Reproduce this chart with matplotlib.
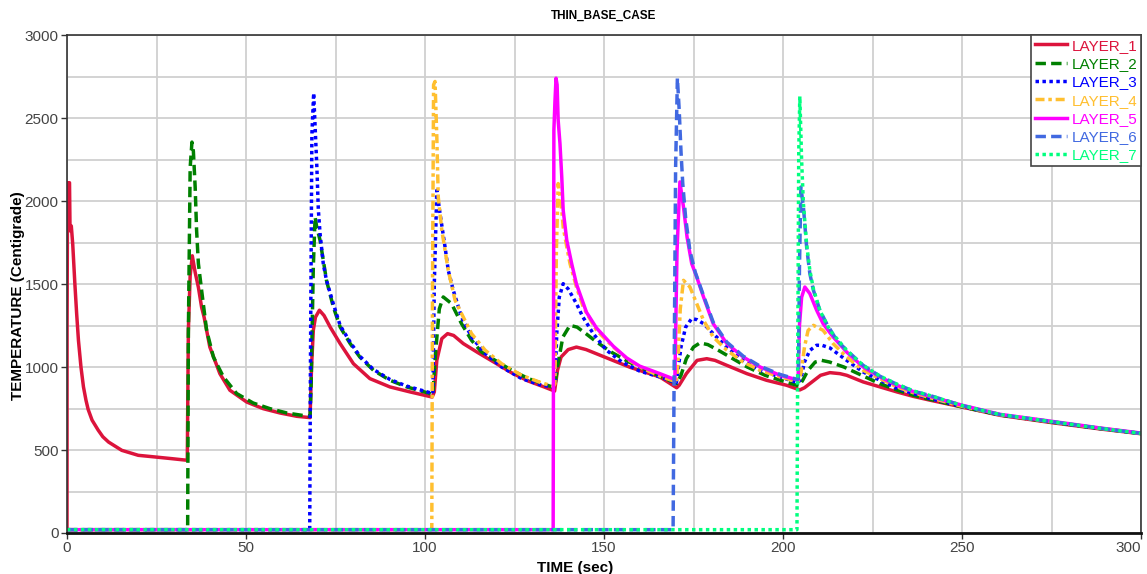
import matplotlib
matplotlib.use("Agg")
import matplotlib.pyplot as plt
from matplotlib.ticker import MultipleLocator, FixedLocator

plt.rcParams['font.family'] = ['Liberation Sans', 'DejaVu Sans']

# ---- temperature histories of each deposited layer (time in s, temperature in C) ----
layer1_t = [0, 0.02, 0.15, 0.7, 0.85, 1.2, 1.6, 2.2, 2.7, 3.2, 3.9, 4.6, 5.3, 5.9, 7.0, 8.7, 10.0, 11.6, 15.3, 19.9,
            24.6, 29.2, 33.6,
            33.9, 34.4, 35.0, 35.8, 36.7, 37.6, 38.3, 39.9, 42.7, 45.5, 50.2, 54.8, 59.5, 64.2, 67.9,
            68.3, 68.8, 69.4, 70.5, 71.8, 73.5, 76.3, 80.0, 84.6, 90.2, 95.8, 102.0,
            102.6, 103.3, 104.7, 106.3, 108.0, 110.7, 114.9, 119.6, 124.2, 128.9, 133.5, 136.2,
            137.0, 138.0, 140.0, 142.3, 145.0, 148.9, 157.3, 165.6, 170.3,
            171.0, 173.0, 176.0, 178.7, 181.0, 184.3, 189.9, 195.4, 201.0, 204.7,
            206.0, 208.4, 210.5, 213.1, 215.9, 217.8, 222.4, 227.1, 231.8, 236.4, 241.1, 250, 260.6, 275, 288.5, 300]
layer1_temp = [20, 1250, 2110, 2110, 1820, 1850, 1740, 1500, 1320, 1160, 1000, 880, 800, 745, 680, 620, 580, 548,
               498, 468, 458, 448, 438,
               1220, 1550, 1670, 1570, 1480, 1360, 1300, 1120, 960, 860, 789, 749, 723, 703, 695,
               1000, 1221, 1300, 1342, 1310, 1241, 1141, 1020, 930, 880, 850, 819,
               850, 1040, 1171, 1201, 1190, 1141, 1085, 1025, 965, 915, 878, 855,
               980, 1060, 1105, 1120, 1105, 1071, 998, 940, 875,
               890, 960, 1040, 1050, 1040, 1010, 960, 920, 890, 862,
               875, 915, 950, 966, 960, 950, 910, 880, 850, 823, 800, 759, 709, 665, 627, 598]

layer2_t = [0, 33.7, 33.9, 34.4, 34.9, 35.3, 35.8, 36.2, 36.7, 37.6, 39.0, 40.9, 43.7, 47.4, 52.0, 56.7, 61.4, 66.8, 67.9,
            68.2, 68.8, 69.3, 69.7, 70.7, 72.5, 74.4, 76.3, 79.1, 81.8, 85.6, 90.2, 94.9, 101.4, 102.2,
            103.0, 104.0, 105.1, 107.4, 110.2, 113.0, 115.8, 119.6, 124.2, 128.9, 133.5, 136.2,
            137.0, 138.5, 140.5, 142.5, 145.0, 148.0, 152.0, 157.0, 163.0, 170.3,
            171.5, 173.0, 175.0, 176.8, 179.0, 182.0, 186.0, 190.0, 195.0, 200.0, 204.5,
            205.5, 207.0, 209.0, 210.8, 213.0, 217.0, 222.0, 227.0, 232.0, 236.4, 241.1, 250, 260.6, 275, 288.5, 300]
layer2_temp = [20, 20, 1200, 2200, 2355, 2300, 2084, 1823, 1623, 1462, 1221, 1060, 940, 840, 783, 749, 723, 705, 702,
               900, 1600, 1904, 1850, 1762, 1520, 1361, 1241, 1141, 1060, 980, 920, 880, 840, 835,
               1100, 1350, 1422, 1382, 1261, 1161, 1090, 1040, 980, 930, 895, 875,
               1000, 1180, 1251, 1240, 1200, 1150, 1090, 1030, 970, 900,
               950, 1050, 1120, 1145, 1135, 1100, 1050, 1000, 950, 915, 885,
               920, 980, 1030, 1040, 1030, 1000, 950, 900, 860, 830, 805, 760, 711, 668, 629, 599]

layer3_t = [0, 67.8, 68.0, 68.4, 68.9, 69.3, 69.8, 70.2, 70.7, 71.6, 72.5, 74.4, 76.3, 79.1, 81.8, 85.6, 90.2, 94.9,
            101.4, 102.2, 102.6, 103.3, 104.2, 105.6, 106.5, 107.9, 110.2, 113.0, 116.8, 121.4, 127.0, 132.6, 135.9,
            136.3, 136.8, 137.5, 138.6, 140.0, 142.3, 144.1, 147.0, 150.7, 155.0, 160.0, 165.6, 170.2,
            170.5, 171.5, 172.8, 174.5, 176.0, 177.8, 180.5, 184.3, 188.9, 193.6, 199.2, 204.2,
            205.0, 206.0, 207.5, 209.4, 211.0, 213.1, 217.8, 222.4, 227.1, 231.8, 236.4, 241.1, 250, 260.6, 275, 288.5, 300]
layer3_temp = [20, 20, 1000, 2400, 2650, 2450, 2200, 1950, 1800, 1620, 1520, 1380, 1250, 1150, 1065, 985, 925, 885,
               845, 840, 1500, 2064, 1924, 1723, 1582, 1462, 1301, 1181, 1081, 1000, 930, 890, 880,
               900, 1200, 1420, 1502, 1470, 1382, 1301, 1201, 1101, 1030, 975, 940, 905,
               950, 1120, 1240, 1292, 1285, 1261, 1201, 1120, 1040, 980, 940, 905,
               930, 1030, 1100, 1131, 1130, 1115, 1040, 970, 920, 872, 840, 810, 762, 712, 669, 630, 600]

layer4_t = [0, 101.9, 102.1, 102.4, 102.8, 103.3, 103.7, 104.7, 105.6, 106.5, 108.4, 110.2, 113.0, 116.8, 121.4,
            127.0, 132.6, 135.9, 136.3, 136.7, 137.2, 138.2, 138.6, 139.6, 140.5, 142.3, 144.2, 147.9, 152.6,
            157.0, 161.0, 165.6, 170.2, 170.6, 171.3, 172.2, 174.0, 175.9, 177.8, 180.5, 184.3, 188.9, 193.6,
            199.2, 204.2, 205.0, 206.0, 207.0, 208.5, 211.2, 214.0, 217.8, 222.4, 227.1, 231.8, 236.4, 241.1,
            250, 260.6, 275, 288.5, 300]
layer4_temp = [20, 20, 1500, 2700, 2720, 2386, 2024, 1823, 1703, 1582, 1402, 1322, 1201, 1101, 1020,
               950, 904, 884, 900, 1700, 2105, 1944, 1843, 1723, 1623, 1482, 1361, 1221, 1120,
               1040, 990, 945, 910, 1000, 1350, 1522, 1482, 1382, 1281, 1181, 1101, 1030, 980,
               940, 912, 960, 1120, 1220, 1251, 1221, 1141, 1060, 980, 930, 880, 845, 815,
               763, 713, 670, 631, 601]

layer5_t = [0, 135.8, 136.0, 136.3, 136.6, 136.9, 137.2, 137.7, 138.2, 138.6, 139.6, 141.0, 142.3, 145.1, 147.9,
            152.6, 156.3, 160.0, 165.6, 169.8, 170.4, 171.2, 172.2, 173.2, 174.5, 175.9, 177.8, 180.5, 184.3,
            188.9, 193.6, 199.2, 204.2, 204.6, 205.2, 206.1, 207.5, 209.4, 211.2, 214.0, 217.8, 222.4, 227.1,
            231.8, 236.4, 241.1, 250, 260.6, 275, 288.5, 300]
layer5_temp = [20, 20, 2426, 2600, 2740, 2700, 2486, 2346, 2145, 1944, 1763, 1620, 1500, 1330, 1235,
               1125, 1055, 1005, 960, 925, 1700, 2115, 1964, 1783, 1623, 1542, 1422, 1261, 1141,
               1060, 1000, 950, 922, 1250, 1420, 1482, 1442, 1342, 1261, 1181, 1090, 1000, 940,
               890, 852, 823, 770, 715, 673, 633, 602]

layer6_t = [0, 169.3, 169.6, 170.0, 170.5, 171.0, 171.5, 172.0, 172.8, 174.0, 175.5, 177.8, 180.5, 184.3, 188.9,
            193.6, 199.2, 204.0, 204.3, 204.6, 205.0, 205.7, 206.6, 207.5, 208.5, 210.3, 212.2, 215.0, 217.8,
            222.4, 227.1, 231.8, 236.4, 241.1, 250, 260.6, 275, 288.5, 300]
layer6_temp = [20, 20, 1000, 2200, 2740, 2550, 2300, 2105, 1900, 1700, 1570, 1430, 1270, 1150, 1065,
               1005, 955, 925, 930, 1600, 2084, 1964, 1723, 1562, 1462, 1342, 1261, 1161, 1101,
               1010, 944, 896, 855, 828, 768, 713, 671, 631, 600]

layer7_t = [0, 203.9, 204.1, 204.4, 204.7, 205.2, 205.7, 206.6, 207.5, 208.5, 210.3, 213.1, 217.8, 222.4,
            227.1, 231.8, 236.4, 241.1, 250, 260.6, 275, 288.5, 300]
layer7_temp = [20, 20, 1000, 2300, 2630, 2245, 1984, 1740, 1582, 1470, 1340, 1221, 1100, 1010,
               945, 897, 856, 828, 768, 714, 671, 631, 600]

layer_names = ["LAYER_1", "LAYER_2", "LAYER_3", "LAYER_4", "LAYER_5", "LAYER_6", "LAYER_7"]
layer_times = [layer1_t, layer2_t, layer3_t, layer4_t, layer5_t, layer6_t, layer7_t]
layer_temps = [layer1_temp, layer2_temp, layer3_temp, layer4_temp, layer5_temp, layer6_temp, layer7_temp]

x_ticks = [0, 50, 100, 150, 200, 250, 300]

colors = ["#DC143C", "#008000", "#0000FF", "#FFBF2F", "#FF00FF", "#4169E1", "#00FF7F"]
dashes = [None, (3.0, 1.5), (1.0, 1.0), (2.6, 1.1, 1.0, 1.1), None, (3.0, 1.5), (1.0, 1.0)]

fig = plt.figure(figsize=(11.47, 5.74), dpi=100)
ax = fig.add_axes([67 / 1147, 1 - 533 / 574, (1141 - 67) / 1147, (533 - 35) / 574])

for name, t, temp, c, d in zip(layer_names, layer_times, layer_temps, colors, dashes):
    line, = ax.plot(t, temp, color=c, lw=2.5, label=name,
                    solid_joinstyle='round', dash_capstyle='butt')
    if d is not None:
        line.set_dashes(d)

ax.set_xlim(0, 300)
ax.set_ylim(0, 3000)
ax.xaxis.set_major_locator(FixedLocator(x_ticks))
ax.xaxis.set_minor_locator(MultipleLocator(25))
ax.yaxis.set_major_locator(MultipleLocator(500))
ax.yaxis.set_minor_locator(MultipleLocator(250))
ax.grid(True, which='both', color='#d0d0d0', lw=1.3)
ax.set_axisbelow(True)

ax.tick_params(which='major', direction='out', length=4, width=1, color='#333333',
               labelsize=11, labelcolor='#444444', pad=2)
ax.tick_params(which='minor', length=0)

# keep the last x tick label inside the plotting frame
ax.xaxis.get_major_ticks()[-1].label1.set_horizontalalignment('right')

for side in ['top', 'right', 'left']:
    ax.spines[side].set_color('#333333')
    ax.spines[side].set_linewidth(1.2)
ax.spines['bottom'].set_color('#111111')
ax.spines['bottom'].set_linewidth(2)

ax.set_title("THIN_BASE_CASE", fontsize=8.5, fontweight='bold', pad=12)
ax.set_xlabel("TIME (sec)", fontsize=11, fontweight='bold', labelpad=1)
ax.set_ylabel("TEMPERATURE (Centigrade)", fontsize=11, fontweight='bold', labelpad=6)
ax.xaxis.set_label_coords((575 - 67) / 1074, -0.057)
ax.yaxis.set_label_coords(-(67 - 25) / 1074, (533 - 296) / 498)

leg = ax.legend(loc='upper right', bbox_to_anchor=(1, 1), borderaxespad=0, fancybox=False,
                framealpha=1, edgecolor='#444444', fontsize=11, handlelength=2.1,
                handletextpad=0.3, labelspacing=0.28, borderpad=0.25)
leg.get_frame().set_linewidth(1.2)
for text, c in zip(leg.get_texts(), colors):
    text.set_color(c)

fig.savefig("out.png", dpi=100)
